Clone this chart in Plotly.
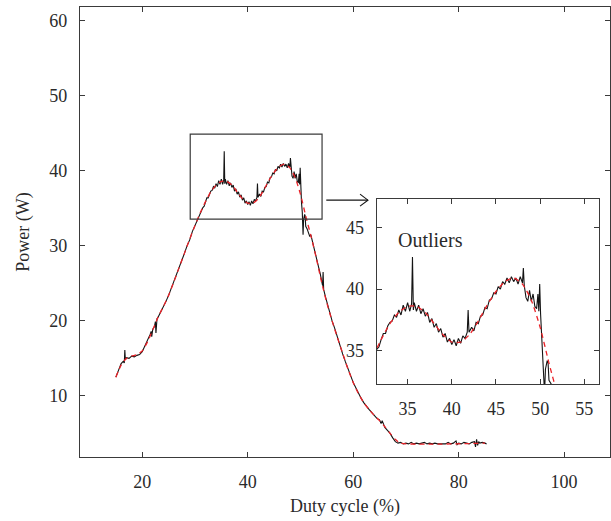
import plotly.graph_objects as go

# ---------------- data ----------------
measured_duty = [
    15.0, 15.5, 16.0, 16.4, 16.6, 16.7, 16.8, 17.0, 17.5, 18.0, 18.5, 19.0, 19.5, 20.0,
    20.5, 21.0, 21.5, 21.7, 21.8, 22.0, 22.3, 22.5, 22.6, 22.8, 23.0, 23.5, 24.0, 24.5,
    25.0, 25.5, 26.0, 26.5, 27.0, 27.5, 28.0, 28.5, 29.0, 29.5, 30.0,
    30.25, 30.5, 30.75, 31.0, 31.25, 31.5, 31.75, 32.0, 32.25, 32.5, 32.75, 33.0, 33.25,
    33.5, 33.75, 34.0, 34.25, 34.5, 34.75, 35.0, 35.25, 35.45, 35.55, 35.65, 35.75,
    36.0, 36.25, 36.5, 36.75, 37.0, 37.25, 37.5, 37.75, 38.0, 38.25, 38.5, 38.75, 39.0,
    39.25, 39.5, 39.75, 40.0, 40.25, 40.5, 40.75, 41.0, 41.25, 41.5, 41.75, 41.85, 41.95,
    42.25, 42.5, 42.75, 43.0, 43.25, 43.5, 43.75, 44.0, 44.25, 44.5, 44.75, 45.0, 45.25,
    45.5, 45.75, 46.0, 46.25, 46.5, 46.75, 47.0, 47.25, 47.5, 47.75, 48.0, 48.1, 48.2,
    48.4, 48.6, 48.8, 49.0, 49.2, 49.4, 49.6, 49.75, 49.85, 49.95, 50.05, 50.2, 50.35,
    50.5, 50.6, 50.8, 50.9, 51.0, 51.25, 51.5, 51.75, 52.0, 52.25, 52.5, 52.75, 53.0,
    53.25, 53.5, 53.75, 54.0, 54.2, 54.3, 54.4, 54.75, 55.0,
    55.5, 56.0, 56.5, 57.0, 57.5, 58.0, 58.5, 59.0, 59.5, 60.0, 60.5, 61.0, 61.5, 62.0,
    62.5, 63.0, 63.5, 64.0, 64.5, 65.0, 65.3, 65.5, 66.0, 66.5, 67.0, 67.5, 68.0, 68.5,
    69.0, 69.5, 70.0, 70.5, 71.0, 71.5, 72.0, 72.5, 73.0, 73.5, 74.0, 74.5, 75.0, 75.5,
    76.0, 76.5, 77.0, 77.5, 78.0, 78.5, 79.0, 79.5, 79.7, 80.0, 80.5, 81.0, 81.5, 82.0,
    82.5, 83.0, 83.2, 83.4, 83.6, 83.8, 84.0, 84.5, 85.0, 85.3,
]
measured_power = [
    12.5, 13.4, 14.3, 14.6, 14.4, 16.1, 14.8, 15.1, 15.0, 15.3, 15.2, 15.4, 15.5, 15.9,
    16.6, 17.3, 18.2, 18.6, 17.9, 18.9, 19.2, 19.9, 18.4, 20.3, 20.5, 21.2, 21.8, 22.6,
    23.4, 24.3, 25.2, 26.1, 27.0, 28.1, 29.0, 30.0, 30.8, 31.9, 32.7,
    33.0, 33.5, 33.9, 34.3, 34.8, 35.1, 35.3, 35.9, 36.4, 36.4, 37.0, 37.3, 37.4,
    37.9, 37.7, 38.3, 37.9, 38.7, 38.2, 38.9, 38.2, 38.8, 42.6, 38.3, 38.9,
    38.2, 38.7, 38.0, 38.4, 37.8, 38.1, 37.3, 37.6, 36.9, 37.2, 36.5, 36.8, 36.1,
    36.4, 35.7, 36.0, 35.5, 35.9, 35.4, 36.0, 35.6, 36.2, 36.0, 36.5, 38.3, 36.5,
    36.9, 36.6, 37.3, 37.2, 37.8, 37.9, 38.5, 38.4, 39.1, 39.2, 39.7, 39.6, 40.2,
    40.0, 40.6, 40.4, 40.9, 40.5, 41.0, 40.6, 40.9, 40.4, 41.0, 40.5, 41.7, 40.3,
    39.3, 39.0, 39.9, 39.0, 39.6, 38.6, 38.4, 39.6, 38.2, 40.4, 38.0, 35.8, 34.5,
    31.5, 33.5, 34.2, 34.0, 32.6, 32.3, 31.8, 31.3, 31.4, 30.6, 29.9, 29.1, 28.5,
    27.8, 27.0, 26.3, 25.3, 24.7, 26.5, 24.2, 23.2, 22.5,
    21.2, 20.0, 19.0, 17.8, 16.8, 15.6, 14.6, 13.6, 12.7, 11.8, 11.1, 10.3, 9.7, 9.1,
    8.6, 8.2, 7.8, 7.4, 7.0, 6.8, 6.3, 6.7, 5.8, 5.4, 5.0, 4.4, 3.9, 3.7,
    3.8, 3.6, 3.7, 3.6, 3.8, 3.6, 3.7, 3.6, 3.7, 3.8, 3.6, 3.7, 3.6, 3.7,
    3.6, 3.6, 3.7, 3.6, 3.8, 3.6, 3.7, 4.0, 3.5, 3.7, 3.6, 3.8, 3.7, 3.6,
    3.8, 3.9, 3.2, 4.2, 3.4, 3.9, 3.7, 3.8, 3.7, 3.6,
]

fit_duty = [15, 16, 17, 18, 19, 20, 21, 22, 23, 24, 25, 26, 27, 28, 29, 30, 31, 32, 33,
            34, 35, 36, 37, 38, 39, 40, 41, 42, 43, 44, 45, 46, 47, 48, 49, 50, 51, 52,
            53, 54, 55, 56, 57, 58, 59, 60, 61, 62, 63, 64, 65, 66, 67, 68, 69, 85]
fit_power = [12.5, 14.1, 15.0, 15.3, 15.5, 16.0, 17.2, 18.8, 20.5, 21.9, 23.4, 25.2, 27.1,
             29.0, 30.9, 32.7, 34.4, 35.9, 37.2, 38.1, 38.6, 38.6, 38.1, 37.2, 36.3, 35.7,
             35.7, 36.3, 37.4, 38.7, 39.8, 40.6, 40.9, 40.4, 39.1, 36.9, 34.0, 31.3, 28.4,
             25.2, 22.4, 20.0, 17.8, 15.7, 13.6, 11.8, 10.3, 9.1, 8.2, 7.4, 6.7, 5.9, 5.0,
             4.2, 3.7, 3.7]

main_xticks = [20, 40, 60, 80, 100]
main_yticks = [10, 20, 30, 40, 50, 60]
inset_xticks = [35, 40, 45, 50, 55]
inset_yticks = [35, 40, 45]

zoom_box_x = [29.1, 54.1]
zoom_box_y = [33.57, 44.9]

# ---------------- styles ----------------
FONT = "Liberation Serif"
AX = "#3a3a3a"
BLACK = "#141414"
RED = "#ea2228"
TXT = "#2a2a2a"

fig = go.Figure()

for xa, ya in (("x", "y"), ("x2", "y2")):
    fig.add_trace(go.Scatter(x=measured_duty, y=measured_power, mode="lines",
                             line=dict(color=BLACK, width=1.1), xaxis=xa, yaxis=ya,
                             showlegend=False, hoverinfo="skip"))
    fig.add_trace(go.Scatter(x=fit_duty, y=fit_power, mode="lines",
                             line=dict(color=RED, width=1.3, dash="5px,4px", shape="spline",
                                       smoothing=0.6),
                             xaxis=xa, yaxis=ya, showlegend=False, hoverinfo="skip"))

axis_common = dict(showline=True, linecolor=AX, linewidth=1.3, mirror="ticks",
                   ticks="inside", ticklen=5, tickwidth=1.2, tickcolor=AX,
                   showgrid=False, zeroline=False,
                   tickfont=dict(family=FONT, size=18, color=TXT))

fig.update_layout(
    width=611, height=521,
    margin=dict(l=80, r=1, t=7, b=64),
    paper_bgcolor="white", plot_bgcolor="white",
    font=dict(family=FONT, size=18, color=TXT),
    xaxis=dict(range=[8.2, 108.7], tickvals=main_xticks, ticklabelstandoff=8,
               title=dict(text="Duty cycle (%)", font=dict(family=FONT, size=18, color=TXT),
                          standoff=8),
               **axis_common),
    yaxis=dict(range=[1.85, 61.85], tickvals=main_yticks, ticklabelstandoff=8,
               title=dict(text="Power (W)", font=dict(family=FONT, size=18, color=TXT),
                          standoff=14),
               **axis_common),
    xaxis2=dict(domain=[0.5598, 0.9792], anchor="y2", range=[31.5, 56.66],
                tickvals=inset_xticks, ticklabelstandoff=8, **axis_common),
    yaxis2=dict(domain=[0.1622, 0.5733], anchor="x2", range=[32.3, 47.3],
                tickvals=inset_yticks, ticklabelstandoff=8, **axis_common),
)

# zoom rectangle on main axes
fig.add_shape(type="rect", xref="x", yref="y",
              x0=zoom_box_x[0], x1=zoom_box_x[1], y0=zoom_box_y[0], y1=zoom_box_y[1],
              line=dict(color=AX, width=1.2))
# arrow from box to inset
fig.add_shape(type="line", xref="x", yref="y", x0=54.9, y0=36.1, x1=62.8, y1=36.1,
              line=dict(color=BLACK, width=1.1))
fig.add_shape(type="path", xref="x", yref="y",
              path="M 61.3,36.9 L 62.8,36.1 L 61.3,35.3",
              line=dict(color=BLACK, width=1.1))

fig.add_annotation(x=37.6, y=44.0, xref="x2", yref="y2", text="Outliers",
                   showarrow=False, font=dict(family=FONT, size=20, color=TXT))

fig.write_html("out.html")
